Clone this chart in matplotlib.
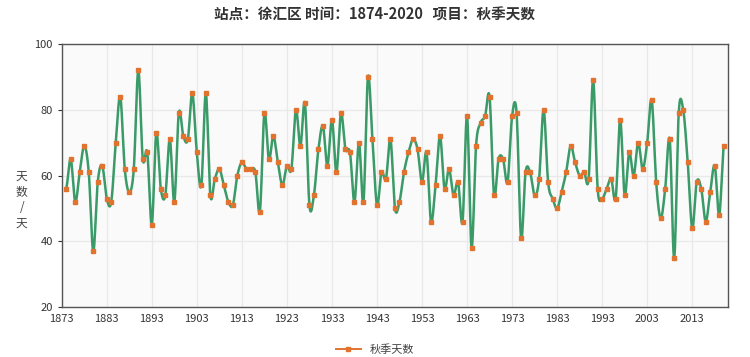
import numpy as np
import matplotlib
matplotlib.use("Agg")
import matplotlib.pyplot as plt
from matplotlib.lines import Line2D

plt.rcParams['font.family'] = ['Noto Sans CJK SC', 'DejaVu Sans']

# Autumn days per year, Xuhui station
years = list(range(1874, 2021))
days = [
    56, 65, 52, 61, 69, 61, 37, 58, 63, 53,   # 1874-1883
    52, 70, 84, 62, 55, 62, 92, 65, 67, 45,   # 1884-1893
    73, 56, 54, 71, 52, 79, 72, 71, 85, 67,   # 1894-1903
    57, 85, 54, 59, 62, 57, 52, 51, 60, 64,   # 1904-1913
    62, 62, 61, 49, 79, 65, 72, 64, 57, 63,   # 1914-1923
    62, 80, 69, 82, 51, 54, 68, 75, 63, 77,   # 1924-1933
    61, 79, 68, 67, 52, 70, 52, 90, 71, 51,   # 1934-1943
    61, 59, 71, 50, 52, 61, 67, 71, 68, 58,   # 1944-1953
    67, 46, 57, 72, 56, 62, 54, 58, 46, 78,   # 1954-1963
    38, 69, 76, 78, 84, 54, 65, 65, 58, 78,   # 1964-1973
    79, 41, 61, 61, 54, 59, 80, 58, 53, 50,   # 1974-1983
    55, 61, 69, 64, 60, 61, 59, 89, 56, 53,   # 1984-1993
    56, 59, 53, 77, 54, 67, 60, 70, 62, 70,   # 1994-2003
    83, 58, 47, 56, 71, 35, 79, 80, 64, 44,   # 2004-2013
    58, 56, 46, 55, 63, 48, 69,               # 2014-2020
]
xtick_years = list(range(1873, 2014, 10))

title = "站点：徐汇区 时间：1874-2020   项目：秋季天数"
series_name = "秋季天数"


# smooth curve through the points (Catmull-Rom), only for drawing the line
def smoothLine(x, y, steps=12):
    x = np.asarray(x, float)
    y = np.asarray(y, float)
    px = np.concatenate([[x[0]], x, [x[-1]]])
    py = np.concatenate([[y[0]], y, [y[-1]]])
    xs, ys = [], []
    t = np.linspace(0, 1, steps, endpoint=False)
    for i in range(1, len(px) - 2):
        p0, p1, p2, p3 = py[i-1], py[i], py[i+1], py[i+2]
        ys.append(0.5 * ((2*p1) + (-p0 + p2)*t + (2*p0 - 5*p1 + 4*p2 - p3)*t**2
                         + (-p0 + 3*p1 - 3*p2 + p3)*t**3))
        xs.append(px[i] + (px[i+1] - px[i]) * t)
    xs.append([x[-1]])
    ys.append([y[-1]])
    return np.concatenate(xs), np.concatenate(ys)


lineColor = "#3a9a68"
markColor = "#e2732f"

fig = plt.figure(figsize=(7.5, 3.57), dpi=100)
ax = fig.add_axes([0.0823, 0.14, 0.8887, 0.7368])
ax.set_facecolor("#fafafa")

sx, sy = smoothLine(years, days)
ax.plot(sx, sy, color=lineColor, lw=1.8, zorder=3)
ax.plot(years, days, ls="none", marker="s", ms=3.0, color=markColor,
        mec=markColor, zorder=4)

ax.set_xlim(1873, 2021)
ax.set_ylim(20, 100)
ax.set_xticks(xtick_years)
ax.set_yticks([20, 40, 60, 80, 100])
ax.grid(True, color="#e9e9e9", lw=0.9)
ax.set_axisbelow(True)
ax.tick_params(axis="both", labelsize=8, colors="#333333", length=3, width=0.8)
ax.tick_params(axis="x", length=0, pad=5)
for s in ax.spines.values():
    s.set_color("#555555")
    s.set_linewidth(1.0)

fig.text(0.5, 0.96, title, ha="center", va="center", fontsize=10.5,
         fontweight="bold", color="#333333")
fig.text(0.029, 0.44, "天\n数\n/\n天", ha="center", va="center", fontsize=8.5,
         color="#444444", linespacing=1.25)

handle = Line2D([], [], color=markColor, lw=1.4, marker="s", ms=3,
                mfc=markColor, mec=markColor)
fig.legend([handle], [series_name], loc="center", bbox_to_anchor=(0.5, 0.02),
           frameon=False, fontsize=8, handlelength=2.2, labelcolor="#444444")

fig.savefig("out.png", dpi=100)
